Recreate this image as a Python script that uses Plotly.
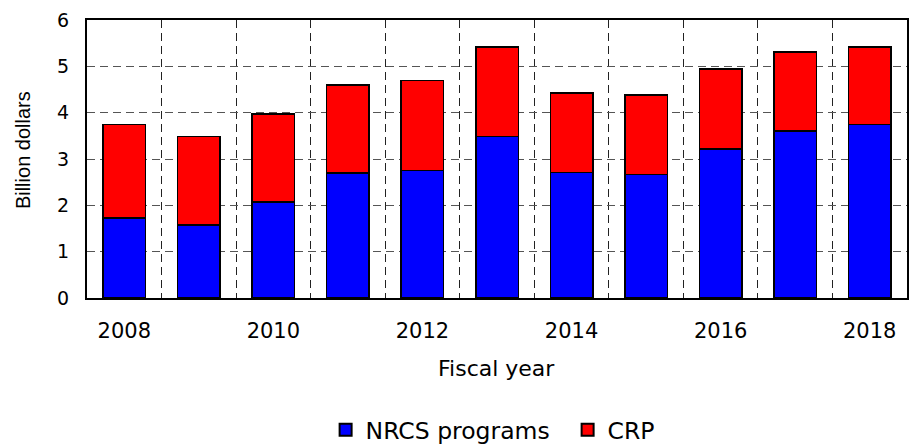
import plotly.graph_objects as go

# Fiscal years and spending (billion dollars)
years = [2008, 2009, 2010, 2011, 2012, 2013, 2014, 2015, 2016, 2017, 2018]
nrcs_programs = [1.73, 1.58, 2.07, 2.70, 2.75, 3.49, 2.71, 2.67, 3.22, 3.60, 3.75]
crp = [2.02, 1.91, 1.90, 1.90, 1.94, 1.93, 1.71, 1.71, 1.72, 1.71, 1.67]
year_ticks = [2008, 2010, 2012, 2014, 2016, 2018]
year_bounds = [2008.5, 2009.5, 2010.5, 2011.5, 2012.5, 2013.5, 2014.5, 2015.5, 2016.5, 2017.5]

FONT = "DejaVu Sans, Arial, sans-serif"
BAR_EDGE = dict(color="black", width=1.5)

fig = go.Figure()
fig.add_trace(go.Bar(x=years, y=nrcs_programs, name="NRCS programs",
                     marker=dict(color="#0000ff", line=BAR_EDGE)))
fig.add_trace(go.Bar(x=years, y=crp, name="CRP",
                     marker=dict(color="#ff0000", line=BAR_EDGE)))

fig.update_layout(
    width=913, height=445,
    margin=dict(l=87, r=6, t=20, b=147, autoexpand=False),
    barmode="stack", bargap=0.43,
    paper_bgcolor="white", plot_bgcolor="white",
    font=dict(family=FONT, color="black", size=20),
    showlegend=True,
    legend=dict(orientation="h", x=0.291, xanchor="left", y=-0.475, yanchor="middle",
                traceorder="normal", font=dict(size=23.5), entrywidth=197,
                itemsizing="constant"),
    xaxis=dict(
        range=[2007.5, 2018.5], tickvals=year_ticks,
        tickfont=dict(size=21), ticks="outside", ticklen=13,
        tickcolor="rgba(0,0,0,0)", showgrid=False,
        showline=True, linecolor="black", linewidth=2, mirror=True,
        minor=dict(tickvals=year_bounds, showgrid=True, gridcolor="#222222",
                   gridwidth=1, griddash="8px,5px", ticks=""),
        zeroline=False,
    ),
    yaxis=dict(
        range=[0, 6], dtick=1, tickfont=dict(size=19),
        ticks="outside", ticklen=12, tickcolor="rgba(0,0,0,0)",
        showgrid=True, gridcolor="#555555", gridwidth=1, griddash="8px,5px",
        showline=True, linecolor="black", linewidth=2, mirror=True,
        zeroline=False,
    ),
    annotations=[
        dict(text="Billion dollars", textangle=-90, xref="paper", yref="paper",
             x=(23 - 87) / 820, y=0.532, xanchor="center", yanchor="middle",
             showarrow=False, font=dict(family="Liberation Sans, Arial, sans-serif", size=20)),
        dict(text="Fiscal year", xref="paper", yref="paper",
             x=0.499, y=-0.255, xanchor="center", yanchor="middle",
             showarrow=False, font=dict(size=22)),
    ],
)

fig.write_html("out.html")
